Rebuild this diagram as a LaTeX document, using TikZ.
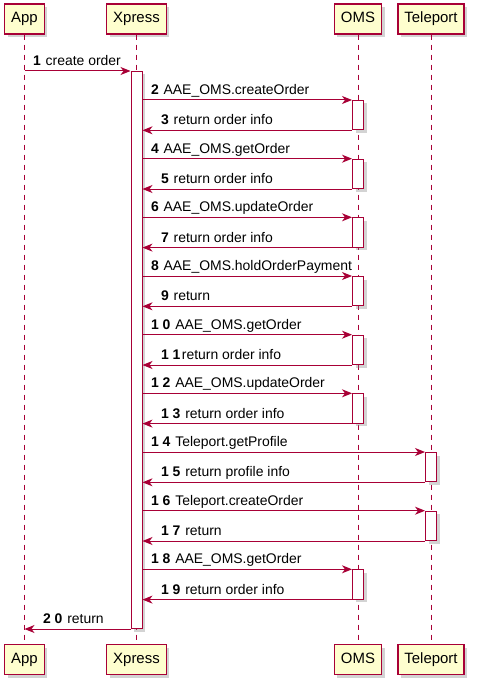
\documentclass[tikz,border=0pt]{standalone}
\usepackage{fontspec}
\setmainfont{Liberation Sans}
\usetikzlibrary{arrows.meta, shadows, positioning}
\definecolor{umlred}{RGB}{168, 0, 54}
\definecolor{umlyellow}{RGB}{254, 254, 206}
\tikzset{>={Stealth[length = 10bp, width = 8bp, inset = 3bp]}}
\newcommand{\msgno}[1]{\textbf{#1}\hspace{1bp} }

\begin{document}
\begin{tikzpicture}[x = 1bp, y = -1bp,
  actor/.style = {draw = umlred, fill = umlyellow, line width = 1.2bp, minimum height = 30bp, text height = 10.5bp, text depth = 3bp, inner xsep = 6.5bp, font = \fontsize{15}{17}\selectfont, drop shadow = {shadow xshift = 3bp, shadow yshift = -3bp, opacity = 0.35}},
  life/.style = {umlred, line width = 0.8bp, dash pattern = on 5bp off 5bp},
  act/.style = {draw = umlred, fill = white, line width = 1bp, minimum width = 11bp, inner sep = 0pt, anchor = north, drop shadow = {shadow xshift = 3bp, shadow yshift = -3bp, opacity = 0.35}},
  msg/.style = {umlred, line width = 1bp, ->},
  lbl/.style = {black, anchor = base west, inner sep = 0pt, font = \fontsize{14}{16}\selectfont}]
\useasboundingbox (0,0) rectangle (480,688);
\node[actor] (appH) at (24.5, 19) {App};
\node[actor] (xpH) at (136.5, 19) {Xpress};
\node[actor] (omsH) at (358, 19) {OMS};
\node[actor] (telH) at (431, 19) {Teleport};
\node[actor] (appF) at (24.5, 659.5) {App};
\node[actor] (xpF) at (136.5, 659.5) {Xpress};
\node[actor] (omsF) at (358, 659.5) {OMS};
\node[actor] (telF) at (431, 659.5) {Teleport};
\draw[life] (appH) -- (appF);
\draw[life] (xpH) -- (xpF);
\draw[life] (omsH) -- (omsF);
\draw[life] (telH) -- (telF);
\node[act, minimum height = 557bp] (actx) at (136.5, 71) {};
\node[act, minimum height = 29.3bp] (oms1) at (358, 100) {};
\node[act, minimum height = 29.3bp] (oms2) at (358, 158.7) {};
\node[act, minimum height = 29.3bp] (oms3) at (358, 217.3) {};
\node[act, minimum height = 29.3bp] (oms4) at (358, 276) {};
\node[act, minimum height = 29.3bp] (oms5) at (358, 334.7) {};
\node[act, minimum height = 29.3bp] (oms6) at (358, 393.3) {};
\node[act, minimum height = 29.3bp] (tel1) at (431, 452) {};
\node[act, minimum height = 29.3bp] (tel2) at (431, 510.7) {};
\node[act, minimum height = 29.3bp] (oms7) at (358, 569.3) {};
\draw[msg] (appH |- actx.north) -- (actx.north west) node[lbl, pos = 0, xshift = 8bp, yshift = 5.5bp] {\msgno{1}create order};
\draw[msg] (actx.east |- oms1.north) -- (oms1.north west) node[lbl, pos = 0, xshift = 8bp, yshift = 5.5bp] {\msgno{2}AAE\_OMS.createOrder};
\draw[msg] (oms1.south west) -- (actx.east |- oms1.south) node[lbl, pos = 1, xshift = 18bp, yshift = 5.5bp] {\msgno{3}return order info};
\draw[msg] (actx.east |- oms2.north) -- (oms2.north west) node[lbl, pos = 0, xshift = 8bp, yshift = 5.5bp] {\msgno{4}AAE\_OMS.getOrder};
\draw[msg] (oms2.south west) -- (actx.east |- oms2.south) node[lbl, pos = 1, xshift = 18bp, yshift = 5.5bp] {\msgno{5}return order info};
\draw[msg] (actx.east |- oms3.north) -- (oms3.north west) node[lbl, pos = 0, xshift = 8bp, yshift = 5.5bp] {\msgno{6}AAE\_OMS.updateOrder};
\draw[msg] (oms3.south west) -- (actx.east |- oms3.south) node[lbl, pos = 1, xshift = 18bp, yshift = 5.5bp] {\msgno{7}return order info};
\draw[msg] (actx.east |- oms4.north) -- (oms4.north west) node[lbl, pos = 0, xshift = 8bp, yshift = 5.5bp] {\msgno{8}AAE\_OMS.holdOrderPayment};
\draw[msg] (oms4.south west) -- (actx.east |- oms4.south) node[lbl, pos = 1, xshift = 18bp, yshift = 5.5bp] {\msgno{9}return};
\draw[msg] (actx.east |- oms5.north) -- (oms5.north west) node[lbl, pos = 0, xshift = 8bp, yshift = 5.5bp] {\msgno{1 0}AAE\_OMS.getOrder};
\draw[msg] (oms5.south west) -- (actx.east |- oms5.south) node[lbl, pos = 1, xshift = 18bp, yshift = 5.5bp] {\textbf{1 1}\hspace{1.5bp}return order info};
\draw[msg] (actx.east |- oms6.north) -- (oms6.north west) node[lbl, pos = 0, xshift = 8bp, yshift = 5.5bp] {\msgno{1 2}AAE\_OMS.updateOrder};
\draw[msg] (oms6.south west) -- (actx.east |- oms6.south) node[lbl, pos = 1, xshift = 18bp, yshift = 5.5bp] {\msgno{1 3}return order info};
\draw[msg] (actx.east |- tel1.north) -- (tel1.north west) node[lbl, pos = 0, xshift = 8bp, yshift = 5.5bp] {\msgno{1 4}Teleport.getProfile};
\draw[msg] (tel1.south west) -- (actx.east |- tel1.south) node[lbl, pos = 1, xshift = 18bp, yshift = 5.5bp] {\msgno{1 5}return profile info};
\draw[msg] (actx.east |- tel2.north) -- (tel2.north west) node[lbl, pos = 0, xshift = 8bp, yshift = 5.5bp] {\msgno{1 6}Teleport.createOrder};
\draw[msg] (tel2.south west) -- (actx.east |- tel2.south) node[lbl, pos = 1, xshift = 18bp, yshift = 5.5bp] {\msgno{1 7}return};
\draw[msg] (actx.east |- oms7.north) -- (oms7.north west) node[lbl, pos = 0, xshift = 8bp, yshift = 5.5bp] {\msgno{1 8}AAE\_OMS.getOrder};
\draw[msg] (oms7.south west) -- (actx.east |- oms7.south) node[lbl, pos = 1, xshift = 18bp, yshift = 5.5bp] {\msgno{1 9}return order info};
\draw[msg] (actx.south west) -- (appH |- actx.south) node[lbl, pos = 1, xshift = 18bp, yshift = 5.5bp] {\msgno{2 0}return};
\end{tikzpicture}
\end{document}
